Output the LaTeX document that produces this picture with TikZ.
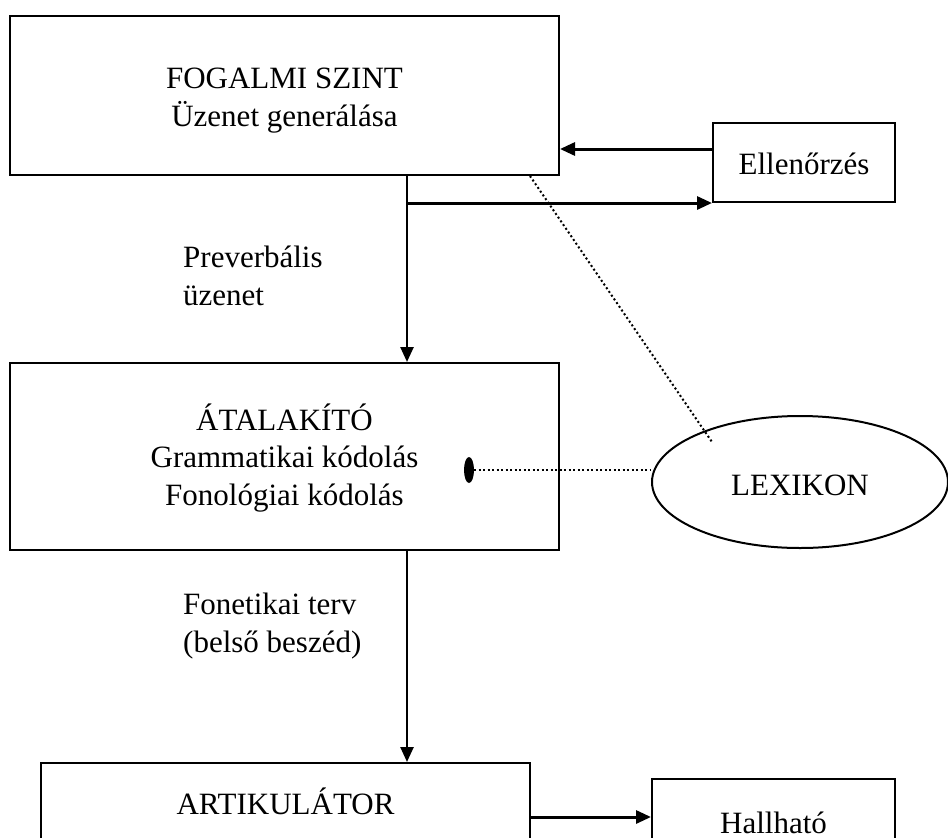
\documentclass[tikz,border=0pt]{standalone}
\usepackage{fontspec}
\setmainfont{Liberation Serif}
\usetikzlibrary{arrows.meta,shapes.geometric}
\newcommand{\mlines}[2][c]{\begin{tabular}[b]{@{}#1@{}}#2\end{tabular}}
\begin{document}
\begin{tikzpicture}[x=1pt,y=-1pt,
  txt/.style={font=\fontsize{31}{38}\selectfont},
  box/.style={draw, line width=2pt, rectangle, inner sep=0pt, txt},
  arr/.style={-{Triangle[length=15pt,width=13pt]}, line width=2.5pt},
  thickarr/.style={arr, line width=3pt},
  dotline/.style={line width=2pt, dash pattern=on 2pt off 2.5pt}]
\clip (0,0) rectangle (948,838);
\fill[white] (0,0) rectangle (948,838);

% boxes
\node[box, minimum width=549pt, minimum height=159pt, text height=61pt, text depth=0pt] (fog) at (284.5,95.5)
  {\mlines{FOGALMI SZINT\\Üzenet generálása}};
\node[box, minimum width=182pt, minimum height=79pt, text height=23pt, text depth=0pt] (ell) at (804,162.5) {Ellenőrzés};
\node[box, font=\fontsize{31}{37.5}\selectfont, minimum width=549pt, minimum height=187pt, text height=97pt, text depth=0pt] (atal) at (284.5,456.5)
  {\mlines{ÁTALAKÍTÓ\\Grammatikai kódolás\\Fonológiai kódolás}};
\node[draw, ellipse, line width=2pt, inner sep=0pt, txt, minimum width=296pt, minimum height=132pt, text height=26pt, text depth=0pt] (lex) at (800,482) {LEXIKON};
\node[box, minimum width=489pt, minimum height=81pt, text height=21pt, text depth=0pt] (art) at (285.5,803.5) {ARTIKULÁTOR};
\node[box, minimum width=243pt, minimum height=95pt, text height=13pt, text depth=0pt] (hall) at (773.5,826.5) {Hallható};

% free labels
\node[txt, anchor=base west, inner sep=0pt] (prev) at (183,305) {\mlines[l]{Preverbális\\üzenet}};
\node[txt, anchor=base west, inner sep=0pt] (fon) at (183,652) {\mlines[l]{Fonetikai terv\\(belső beszéd)}};

% helper coordinates
\coordinate (xl) at (407,0);
\coordinate (ya) at (0,149);
\coordinate (yb) at (0,817);
\coordinate (fogdot) at (530,0);
\coordinate (lexin) at (712,442);

% connectors
\draw[arr] (fog.south -| xl) -- (atal.north -| xl);
\draw[thickarr] (ell.south west -| xl) -- (ell.south west);
\draw[thickarr] (ell.west |- ya) -- (fog.east |- ya);
\draw[arr] (atal.south -| xl) -- (art.north -| xl);
\draw[thickarr] (art.east |- yb) -- (hall.west |- yb);

\draw[dotline] (fog.south -| fogdot) -- (lexin);
\node[fill, ellipse, minimum width=10pt, minimum height=26pt, inner sep=0pt] (dot) at (469,470) {};
\draw[dotline, line width=2.5pt] (dot) -- (lex.west |- dot);
\end{tikzpicture}
\end{document}
